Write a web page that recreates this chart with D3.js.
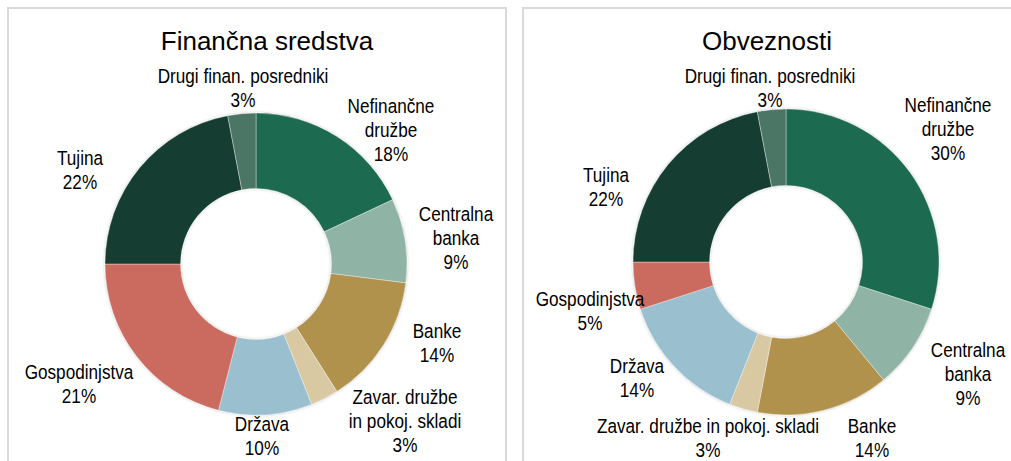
<!DOCTYPE html>
<html>
<head>
<meta charset="utf-8">
<script src="https://cdn.jsdelivr.net/npm/d3@7"></script>
<style>
  html, body { margin: 0; padding: 0; background: #ffffff; }
  svg { display: block; font-family: "Liberation Sans", Arial, sans-serif; }
</style>
</head>
<body>
<svg id="chart" width="1011" height="461"></svg>
<script>
// ---- Data ----
const categories = ["Nefinančne družbe", "Centralna banka", "Banke", "Zavar. družbe in pokoj. skladi",
                    "Država", "Gospodinjstva", "Tujina", "Drugi finan. posredniki"];
const sredstvaValues = [18, 9, 14, 3, 10, 21, 22, 3];
const obveznostiValues = [30, 9, 14, 3, 14, 5, 22, 3];
const titles = ["Finančna sredstva", "Obveznosti"];
const colors = ["#1f6a4f", "#8fb4a5", "#b0924e", "#d8c9a3", "#9abfcf", "#cb6a5f", "#143e30", "#4b7565"];

// label line splits per panel (text only)
const sredstvaLabelLines = [["Nefinančne", "družbe"], ["Centralna", "banka"], ["Banke"],
  ["Zavar. družbe", "in pokoj. skladi"], ["Država"], ["Gospodinjstva"], ["Tujina"], ["Drugi finan. posredniki"]];
const obveznostiLabelLines = [["Nefinančne", "družbe"], ["Centralna", "banka"], ["Banke"],
  ["Zavar. družbe in pokoj. skladi"], ["Država"], ["Gospodinjstva"], ["Tujina"], ["Drugi finan. posredniki"]];

// ---- Layout (positions, not data) ----
const layout = [
  { panel: [8, 8, 498, 470], cx: 256, cy: 264, r: 151, titleX: 267,
    // label anchor (center x, first-line center y) relative to donut center
    labels: [[135, -159], [200, -51], [181, 66], [149, 132], [6, 159], [-177, 107], [-176, -107], [-13, -189]] },
  { panel: [523, 8, 500, 470], cx: 786, cy: 262, r: 153, titleX: 767,
    labels: [[162, -158], [182, 87], [86, 163], [-78, 163], [-149, 103], [-196, 36], [-180, -88], [-16, -187]] }
];

const svg = d3.select("#chart");
const defs = svg.append("defs");
const f = defs.append("filter").attr("id", "shadow").attr("x", "-10%").attr("y", "-10%")
  .attr("width", "120%").attr("height", "120%");
f.append("feDropShadow").attr("dx", 0).attr("dy", 0).attr("stdDeviation", 1.5)
  .attr("flood-color", "#000").attr("flood-opacity", 0.25);

const datasets = [sredstvaValues, obveznostiValues];
const lineSets = [sredstvaLabelLines, obveznostiLabelLines];

const pie = d3.pie().sort(null).value(d => d.value);

datasets.forEach((vals, pi) => {
  const L = layout[pi];
  const [px, py, pw, ph] = L.panel;
  svg.append("rect").attr("x", px).attr("y", py).attr("width", pw).attr("height", ph)
    .attr("fill", "none").attr("stroke", "#d9d9d9").attr("stroke-width", 2);

  svg.append("text").attr("x", L.titleX).attr("y", 50).attr("text-anchor", "middle")
    .attr("font-size", 26).attr("fill", "#000").text(titles[pi]);

  const data = categories.map((c, i) => ({ cat: c, value: vals[i], idx: i }));
  const arcs = pie(data);
  const arc = d3.arc().innerRadius(L.r * 0.5).outerRadius(L.r);

  const g = svg.append("g").attr("transform", `translate(${L.cx},${L.cy})`);
  g.append("g").attr("filter", "url(#shadow)")
    .selectAll("path").data(arcs).join("path")
    .attr("d", arc)
    .attr("fill", d => colors[d.data.idx])
    .attr("stroke", "#ffffff").attr("stroke-width", 0.6).attr("stroke-opacity", 0.6);

  arcs.forEach(a => {
    const i = a.data.idx;
    const [ox, oy] = L.labels[i];
    const lines = lineSets[pi][i].concat([a.data.value + "%"]);
    const lg = g.append("g").attr("transform", `translate(${ox},${oy + 8}) scale(0.88,1)`);
    const t = lg.append("text").attr("x", 0).attr("y", 0)
      .attr("font-size", 19.5).attr("fill", "#000").attr("text-anchor", "middle");
    lines.forEach((ln, k) => {
      t.append("tspan").attr("x", 0).attr("dy", k === 0 ? 0 : 24).text(ln);
    });
  });
});
</script>
</body>
</html>
